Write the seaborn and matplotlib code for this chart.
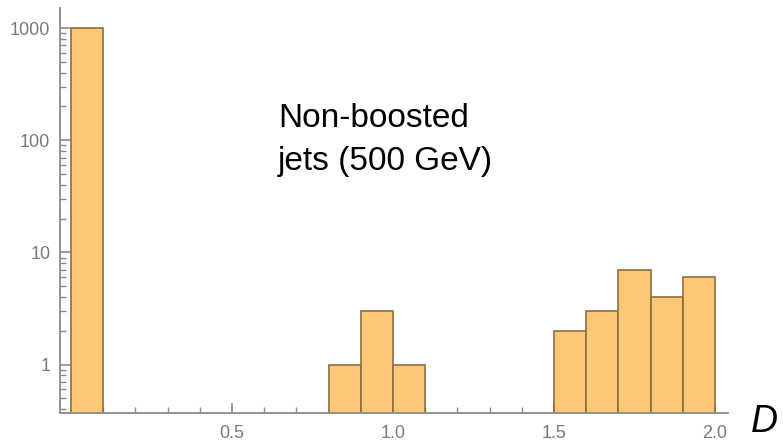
import numpy as np
import pandas as pd
import matplotlib
matplotlib.use("Agg")
import matplotlib.pyplot as plt
import seaborn as sns
from matplotlib.ticker import LogLocator, MultipleLocator, NullFormatter

# ---- data ----
bin_edges = [round(0.1 * i, 1) for i in range(21)]
counts = [1000, 0, 0, 0, 0, 0, 0, 0, 1, 3, 1, 0, 0, 0, 0, 2, 3, 7, 4, 6]
x_ticks = [0.5, 1.0, 1.5, 2.0]
x_tick_labels = ["0.5", "1.0", "1.5", "2.0"]
y_ticks = [1, 10, 100, 1000]
y_tick_labels = ["1", "10", "100", "1000"]
annotation = "Non-boosted\njets (500 GeV)"
axis_label = "D"

centers = [(a + b) / 2 for a, b in zip(bin_edges[:-1], bin_edges[1:])]
df = pd.DataFrame({"x": centers, "w": counts})

sns.set_theme(style="white")
plt.rcParams["font.family"] = ["Liberation Sans", "DejaVu Sans"]

fig = plt.figure(figsize=(7.83, 4.43), dpi=100)
ax = fig.add_axes([60 / 783, 30 / 443, (728 - 60) / 783, (435 - 30) / 443])

sns.histplot(data=df, x="x", weights="w", bins=bin_edges, ax=ax,
             color="#FCC877", alpha=1.0, edgecolor="#8F6D3F", linewidth=1.2)

ax.set_yscale("log")
ax.set_ylim(0.37, 1510)
ax.set_xlim(-0.034, 2.04)

spine_col = "#8a8a8a"
for s in ["top", "right"]:
    ax.spines[s].set_visible(False)
for s in ["left", "bottom"]:
    ax.spines[s].set_color(spine_col)
    ax.spines[s].set_linewidth(1.3)

ax.set_xticks(x_ticks)
ax.set_xticklabels(x_tick_labels)
ax.xaxis.set_minor_locator(MultipleLocator(0.1))
ax.set_yticks(y_ticks)
ax.set_yticklabels(y_tick_labels)
ax.yaxis.set_minor_locator(LogLocator(base=10, subs=np.arange(2, 10)))
ax.yaxis.set_minor_formatter(NullFormatter())

ax.tick_params(axis="both", which="major", direction="in", length=7, width=1.2,
               color=spine_col, labelcolor="#7a7a7a", labelsize=13)
ax.tick_params(axis="both", which="minor", direction="in", length=4, width=1.0,
               color=spine_col)
ax.tick_params(axis="x", which="major", pad=9)
ax.tick_params(axis="y", which="major", pad=7)
ax.tick_params(left=True, bottom=True, which="both")

ax.set_xlabel("")
ax.set_ylabel("")

lines = annotation.split("\n")
fig.text(278 / 783, (443 - 127) / 443, lines[0], fontsize=24, color="black",
         ha="left", va="baseline")
fig.text(278 / 783, (443 - 170) / 443, lines[1], fontsize=24, color="black",
         ha="left", va="baseline")

fig.text(751 / 783, 3 / 443, axis_label, fontsize=27, style="italic",
         color="black", ha="left", va="bottom")

fig.savefig("out.png", dpi=100, facecolor="white")
